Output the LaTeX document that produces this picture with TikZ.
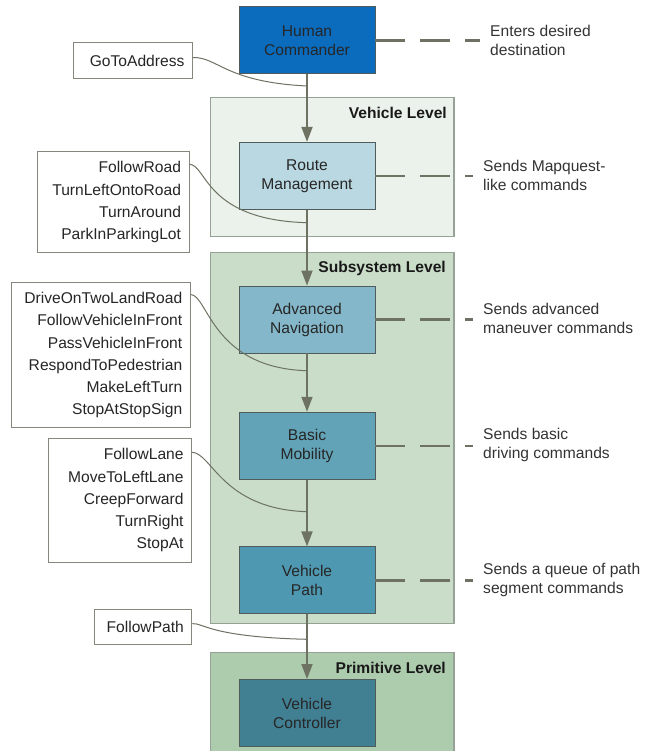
\documentclass[tikz,border=0pt]{standalone}
\usepackage{fontspec}
\setmainfont{Liberation Sans}
\usetikzlibrary{arrows.meta}

\definecolor{commanderblue}{RGB}{11,108,190}
\definecolor{routefill}{RGB}{186,216,226}
\definecolor{advfill}{RGB}{131,183,201}
\definecolor{basicfill}{RGB}{98,163,184}
\definecolor{pathfill}{RGB}{78,152,177}
\definecolor{ctrlfill}{RGB}{65,127,146}
\definecolor{vehlevel}{RGB}{235,242,235}
\definecolor{sublevel}{RGB}{201,221,200}
\definecolor{primlevel}{RGB}{173,203,173}
\definecolor{flowgray}{RGB}{110,114,98}
\definecolor{edgegray}{RGB}{150,162,150}
\definecolor{boxedge}{RGB}{80,92,92}

\begin{document}
\begin{tikzpicture}[x=1pt, y=-1pt,
  every node/.style={font=\fontsize{15.6}{19}\selectfont, text=black!85},
  procbox/.style={draw=boxedge, line width=0.9pt, minimum width=136pt,
    minimum height=67pt, inner sep=0pt, align=center},
  levelbox/.style={draw=edgegray, line width=1.1pt},
  levellabel/.style={anchor=east, inner sep=0pt,
    font=\fontsize{15.6}{19}\selectfont\bfseries, text=black!90},
  cmdlist/.style={draw=flowgray!85, line width=0.9pt, fill=white, anchor=east,
    align=right, inner xsep=8pt, inner ysep=0pt,
    font=\fontsize{15.6}{22.2}\selectfont},
  notetext/.style={anchor=west, align=left, inner xsep=10pt, inner ysep=0pt, text=black!80},
  flowarrow/.style={draw=flowgray, line width=1.8pt, -{Triangle[length=15pt,width=11pt]}},
  feedline/.style={draw=flowgray, line width=1pt},
  remarkline/.style={draw=flowgray, line width=2.4pt, dash pattern=on 30pt off 15pt}
]
  \useasboundingbox (0,0) rectangle (660,751);

  % Level containers
  \draw[levelbox, fill=vehlevel] (210.5,97.7) rectangle (454,236.7);
  \draw[levelbox, fill=sublevel] (210.5,252.7) rectangle (454,623.3);
  \draw[levelbox, fill=primlevel] (210.5,652.3) rectangle (454,760);
  \node[levellabel] (vehlabel) at (447,113) {Vehicle Level};
  \node[levellabel] (sublabel) at (446,268) {Subsystem Level};
  \node[levellabel] (primlabel) at (446,667.7) {Primitive Level};

  % Processing chain
  \node[procbox, fill=commanderblue] (hc) at (307,40.4) {Human\\Commander};
  \node[procbox, fill=routefill] (rm) at (307,175.8) {Route\\Management};
  \node[procbox, fill=advfill] (an) at (307,319.5) {Advanced\\Navigation};
  \node[procbox, fill=basicfill] (bm) at (307,445.7) {Basic\\Mobility};
  \node[procbox, fill=pathfill] (vp) at (307,580.4) {Vehicle\\Path};
  \node[procbox, fill=ctrlfill] (vc) at (307,713) {Vehicle\\Controller};

  \draw[flowarrow] (hc) -- (rm);
  \draw[flowarrow] (rm) -- (an);
  \draw[flowarrow] (an) -- (bm);
  \draw[flowarrow] (bm) -- (vp);
  \draw[flowarrow] (vp) -- (vc);

  % Command lists
  \node[cmdlist, text width=103pt, minimum height=35.6pt] (gotocmd) at (192.8,60.5) {GoToAddress};
  \node[cmdlist, text width=135.4pt, minimum height=101pt] (roadcmd) at (189.4,202.2)
    {FollowRoad\\TurnLeftOntoRoad\\TurnAround\\ParkInParkingLot};
  \node[cmdlist, text width=162.9pt, minimum height=145pt] (drivecmd) at (190.7,355.2)
    {DriveOnTwoLandRoad\\FollowVehicleInFront\\PassVehicleInFront\\RespondToPedestrian\\MakeLeftTurn\\StopAtStopSign};
  \node[cmdlist, text width=127pt, minimum height=124pt] (lanecmd) at (192,500.3)
    {FollowLane\\MoveToLeftLane\\CreepForward\\TurnRight\\StopAt};
  \node[cmdlist, text width=81.6pt, minimum height=35.3pt] (pathcmd) at (192.3,626.6) {FollowPath};

  % Where the commands join the flow
  \coordinate (j1) at (307,86);
  \coordinate (j2) at (307,222.7);
  \coordinate (j3) at (307,370.7);
  \coordinate (j4) at (307,511.7);
  \coordinate (j5) at (307,639.3);

  \draw[feedline] ([yshift=3pt]gotocmd.east) .. controls (218,57) and (225,82) .. (j1);
  \draw[feedline] ([yshift=-13pt]roadcmd.north east) .. controls (207,165) and (205,220) .. (j2);
  \draw[feedline] ([yshift=-12.3pt]drivecmd.north east) .. controls (208,295) and (212,368) .. (j3);
  \draw[feedline] ([yshift=-14.4pt]lanecmd.north east) .. controls (212,453) and (222,509) .. (j4);
  \draw[feedline] ([yshift=3pt]pathcmd.east) .. controls (204,623) and (210,637) .. (j5);

  % Remarks
  \node[notetext] (hcnote) at (480,40.5) {Enters desired\\destination};
  \node[notetext] (rmnote) at (473,175) {Sends Mapquest-\\like commands};
  \node[notetext] (annote) at (473,318.8) {Sends advanced\\maneuver commands};
  \node[notetext] (bmnote) at (473,445) {Sends basic\\driving commands};
  \node[notetext] (vpnote) at (473,579.5) {Sends a queue of path\\segment commands};

  \draw[remarkline] (hc.east) -- (hc.east -| hcnote.west);
  \draw[remarkline] (rm.east) -- (rm.east -| rmnote.west);
  \draw[remarkline] (an.east) -- (an.east -| annote.west);
  \draw[remarkline] (bm.east) -- (bm.east -| bmnote.west);
  \draw[remarkline] (vp.east) -- (vp.east -| vpnote.west);

\end{tikzpicture}
\end{document}
